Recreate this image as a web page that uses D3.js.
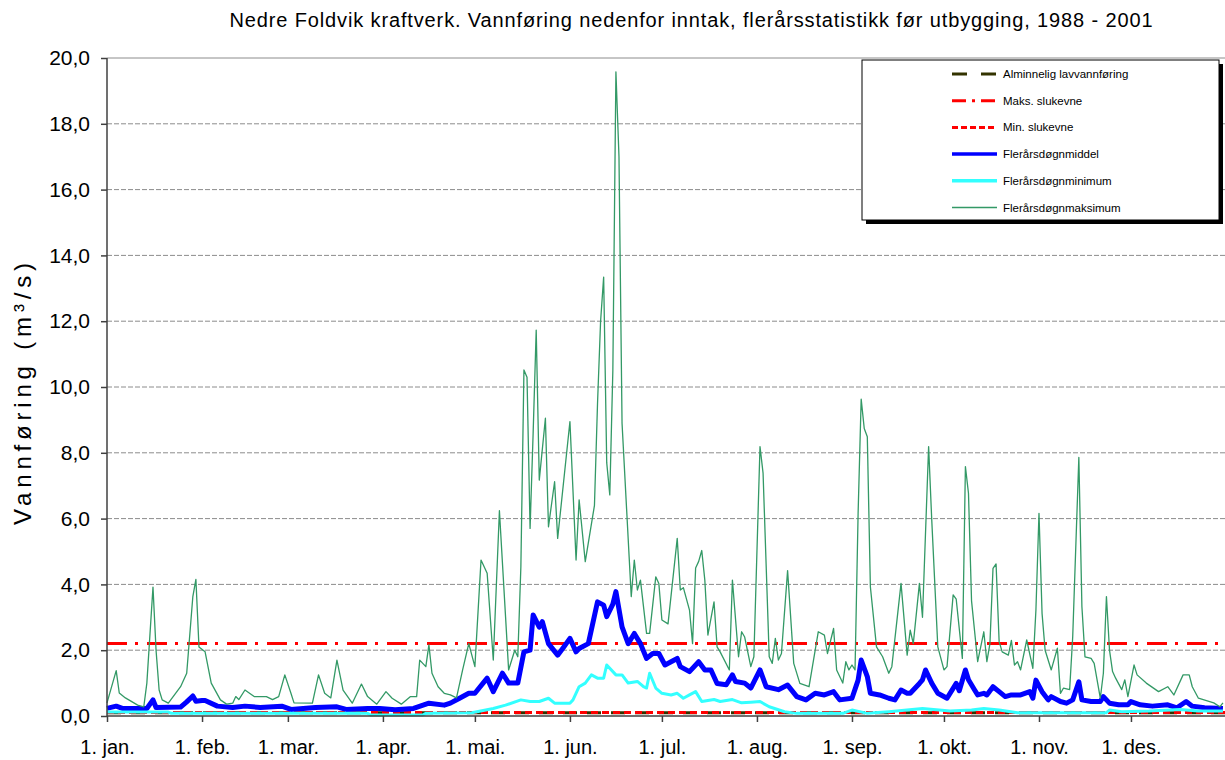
<!DOCTYPE html>
<html>
<head>
<meta charset="utf-8">
<script src="https://cdn.jsdelivr.net/npm/d3@7"></script>
<style>
  body { margin: 0; background: #fff; }
  svg { display: block; font-family: "Liberation Sans", Arial, sans-serif; }
  .axis path, .axis line { stroke: #404040; stroke-width: 1.5; }
  .axis text { font-size: 20px; fill: #000; }
  .y-axis text { font-size: 21px; }
  .grid line { stroke: #8c8c8c; stroke-width: 1; stroke-dasharray: 5,2; }
  .legend text { font-size: 11.5px; fill: #000; }
</style>
</head>
<body>
<svg id="chart" width="1225" height="760"></svg>
<script>
const title = "Nedre Foldvik kraftverk. Vannføring nedenfor inntak, flerårsstatistikk før utbygging, 1988 - 2001";
const yLabel = "Vannføring (m³/s)";

// day of year for 1st of each month, and the labels
const monthStart = [0, 31, 59, 90, 120, 151, 181, 212, 243, 273, 304, 334];
const monthLabels = ["1. jan.", "1. feb.", "1. mar.", "1. apr.", "1. mai.", "1. jun.",
  "1. jul.", "1. aug.", "1. sep.", "1. okt.", "1. nov.", "1. des."];
const yTicks = [0, 2, 4, 6, 8, 10, 12, 14, 16, 18, 20];

// constant levels (m3/s)
const lavvannforing = 0.10;
const maksSlukevne = 2.2;
const minSlukevne = 0.11;

// [day of year, m3/s]
const maxFlow = [
  [0,0.4],[3,1.38],[4,0.7],[6,0.55],[10,0.33],[12,0.28],[13,1.0],[15,3.92],[16,2.0],[17,0.79],
  [18,0.49],[20,0.39],[24,0.89],[26,1.3],[28,3.63],[29,4.15],[30,2.1],[32,1.95],[34,1.0],[37,0.49],
  [39,0.36],[41,0.39],[42,0.59],[43,0.5],[45,0.79],[48,0.59],[52,0.59],[54,0.5],[56,0.59],[58,1.25],
  [60,0.69],[61,0.4],[67,0.39],[69,1.25],[71,0.69],[73,0.55],[75,1.7],[77,0.79],[80,0.39],[83,0.97],
  [85,0.59],[88,0.36],[91,0.74],[93,0.54],[96,0.36],[99,0.59],[101,0.59],[102,1.7],[104,1.5],[105,2.16],
  [106,1.3],[108,0.89],[110,0.69],[112,0.64],[114,0.55],[116,1.4],[118,2.2],[120,1.5],[122,4.74],[124,4.34],
  [126,1.7],[128,6.24],[130,3.02],[131,1.4],[133,2.0],[134,1.8],[135,4.54],[136,10.52],[137,10.3],[138,5.7],
  [139,8.6],[140,11.73],[141,7.17],[143,9.05],[144,5.75],[146,7.12],[147,5.4],[151,8.95],[153,4.74],[154,6.57],
  [156,4.69],[159,6.4],[160,9.5],[161,12.0],[162,13.34],[163,7.7],[164,6.72],[165,10.5],[166,19.58],[167,17.0],
  [168,8.9],[171,3.63],[172,4.74],[173,3.83],[174,4.13],[176,2.51],[177,2.51],[179,4.23],[180,4.03],[181,2.92],
  [183,2.8],[186,5.4],[187,3.83],[188,3.9],[190,3.22],[191,2.2],[192,4.5],[193,4.7],[194,5.03],[195,4.13],
  [196,2.46],[198,3.47],[199,2.1],[200,1.95],[203,1.4],[204,4.13],[206,1.8],[207,2.56],[208,2.4],[210,1.5],
  [211,1.8],[213,8.19],[214,7.38],[216,1.8],[217,1.6],[218,2.36],[219,1.7],[220,1.9],[222,4.42],[224,1.6],
  [226,0.99],[229,0.89],[232,2.56],[234,2.46],[235,1.9],[237,2.66],[238,1.4],[240,1.0],[241,1.65],[242,1.4],
  [243,1.55],[244,1.4],[245,6.16],[246,9.63],[247,8.74],[248,8.49],[249,3.93],[251,2.1],[253,1.8],[255,1.3],
  [256,1.5],[259,4.03],[261,1.85],[262,2.61],[263,2.2],[265,4.03],[266,3.0],[268,8.19],[269,6.0],[271,2.1],
  [273,1.4],[274,1.5],[276,3.68],[277,3.55],[279,1.75],[280,7.58],[281,6.77],[282,3.5],[284,1.65],[286,2.56],
  [287,1.65],[288,2.2],[289,4.49],[290,4.62],[291,2.26],[292,1.95],[294,1.85],[295,2.3],[296,1.55],[297,1.65],
  [298,1.4],[300,2.31],[302,1.45],[303,3.22],[304,6.16],[305,3.12],[306,2.0],[308,1.4],[310,2.06],[311,0.69],
  [312,0.85],[314,0.8],[315,2.41],[317,7.86],[318,3.32],[319,1.8],[321,1.75],[322,1.6],[324,0.54],[325,1.3],
  [326,3.63],[327,2.0],[328,1.35],[329,1.15],[331,0.8],[332,1.1],[333,0.59],[335,1.55],[336,1.25],[339,1.0],
  [343,0.74],[346,0.89],[348,0.64],[351,1.25],[353,1.25],[354,0.89],[356,0.54],[361,0.4],[363,0.28],[364,0.4]
];

const meanFlow = [
  [0,0.23],[3,0.3],[5,0.23],[13,0.23],[15,0.49],[16,0.26],[24,0.27],[26,0.43],[28,0.61],[29,0.45],
  [31,0.47],[32,0.47],[36,0.3],[41,0.26],[45,0.3],[50,0.26],[57,0.3],[60,0.2],[68,0.26],[75,0.28],
  [78,0.2],[85,0.23],[89,0.23],[94,0.19],[100,0.23],[105,0.39],[110,0.33],[112,0.39],[115,0.54],[118,0.69],
  [120,0.69],[124,1.15],[126,0.74],[129,1.3],[131,1.0],[134,1.0],[136,1.95],[138,2.0],[139,3.07],[141,2.7],
  [142,2.87],[144,2.2],[147,1.85],[149,2.1],[151,2.36],[153,1.95],[154,2.05],[157,2.2],[160,3.47],[162,3.37],
  [163,3.02],[165,3.4],[166,3.78],[168,2.71],[170,2.2],[172,2.51],[174,2.2],[176,1.75],[178,1.9],[180,1.9],
  [182,1.55],[186,1.75],[187,1.5],[190,1.35],[193,1.65],[195,1.4],[197,1.4],[199,0.99],[202,0.95],[204,1.25],
  [205,1.05],[208,1.0],[210,0.85],[213,1.4],[215,0.89],[219,0.8],[222,0.94],[225,0.59],[228,0.49],[231,0.69],
  [234,0.64],[237,0.74],[239,0.49],[243,0.54],[245,1.09],[246,1.7],[248,1.2],[249,0.69],[252,0.64],[255,0.54],
  [257,0.49],[259,0.79],[261,0.69],[262,0.69],[265,0.99],[266,1.1],[267,1.4],[269,1.0],[271,0.69],[274,0.54],
  [277,0.99],[278,0.77],[280,1.4],[281,1.1],[283,0.79],[284,0.64],[286,0.69],[287,0.64],[289,0.89],[291,0.74],
  [293,0.59],[295,0.64],[298,0.64],[301,0.74],[302,0.54],[303,1.09],[305,0.74],[307,0.49],[308,0.59],[311,0.44],
  [313,0.39],[315,0.49],[317,1.04],[318,0.49],[321,0.44],[324,0.44],[325,0.59],[327,0.39],[330,0.34],[333,0.34],
  [334,0.44],[337,0.34],[341,0.3],[346,0.34],[349,0.25],[352,0.44],[354,0.3],[358,0.25],[364,0.23]
];

const minFlow = [
  [0,0.12],[20,0.12],[21,0.08],[85,0.08],[86,0.03],[103,0.03],[104,0.08],[119,0.1],[126,0.23],[130,0.33],
  [135,0.49],[138,0.44],[141,0.44],[144,0.54],[146,0.39],[151,0.39],[152,0.49],[154,0.89],[156,1.0],[158,1.25],
  [160,1.15],[162,1.15],[163,1.55],[166,1.25],[168,1.25],[170,1.0],[173,1.05],[175,0.89],[176,0.85],[177,1.3],
  [179,0.85],[181,0.69],[184,0.64],[186,0.69],[188,0.54],[190,0.64],[192,0.74],[194,0.44],[198,0.5],[200,0.44],
  [204,0.5],[207,0.4],[210,0.42],[213,0.44],[216,0.28],[221,0.13],[225,0.08],[240,0.08],[243,0.18],[248,0.08],
  [255,0.13],[266,0.23],[275,0.15],[282,0.18],[286,0.23],[291,0.18],[297,0.1],[326,0.1],[327,0.18],[331,0.13],
  [340,0.15],[350,0.2],[356,0.15],[364,0.15]
];

const legendItems = [
  { label: "Alminnelig lavvannføring", color: "#333300", width: 3, dash: "14,10", key: "15,14" },
  { label: "Maks. slukevne", color: "#ff0000", width: 3, dash: "20,8,3,9", key: "14,6,3,6" },
  { label: "Min. slukevne", color: "#ff0000", width: 3, dash: "7,4", key: "6,3" },
  { label: "Flerårsdøgnmiddel", color: "#0000ff", width: 3.5, dash: null, key: null },
  { label: "Flerårsdøgnminimum", color: "#33ffff", width: 3.5, dash: null, key: null },
  { label: "Flerårsdøgnmaksimum", color: "#339966", width: 1.3, dash: null, key: null }
];

const svg = d3.select("#chart");
svg.append("rect").attr("width", 1225).attr("height", 760).attr("fill", "#fff");

const plotLeft = 107, plotTop = 58, plotBottom = 716;
const x = d3.scaleLinear().domain([0, 365]).range([plotLeft, 1226]);
const y = d3.scaleLinear().domain([0, 20]).range([plotBottom, plotTop]);

// gridlines
svg.append("g")
  .attr("class", "grid")
  .selectAll("line")
  .data(yTicks.filter((d) => d > 0))
  .join("line")
  .attr("x1", plotLeft).attr("x2", 1225)
  .attr("y1", (d) => y(d)).attr("y2", (d) => y(d))
  .style("stroke-dasharray", (d) => (d === 20 ? "none" : null));

// constant level lines
const levels = [
  [lavvannforing, legendItems[0]],
  [maksSlukevne, legendItems[1]],
  [minSlukevne, legendItems[2]]
];
svg.append("g")
  .selectAll("line")
  .data(levels)
  .join("line")
  .attr("x1", x(0)).attr("x2", 1225)
  .attr("y1", (d) => y(d[0])).attr("y2", (d) => y(d[0]))
  .attr("stroke", (d) => d[1].color)
  .attr("stroke-width", (d) => d[1].width)
  .attr("stroke-dasharray", (d) => d[1].dash);

const line = d3.line().x((d) => x(d[0])).y((d) => y(d[1]));

const series = [
  [meanFlow, legendItems[3]],
  [minFlow, legendItems[4]],
  [maxFlow, legendItems[5]]
];
svg.append("g")
  .selectAll("path")
  .data(series)
  .join("path")
  .attr("d", (d) => line(d[0]))
  .attr("fill", "none")
  .attr("stroke", (d) => d[1].color)
  .attr("stroke-width", (d, i) => (i === 0 ? 5 : i === 1 ? 3 : d[1].width))
  .attr("stroke-linejoin", "round");

// axes
const yAxis = d3.axisLeft(y)
  .tickValues(yTicks)
  .tickSize(6)
  .tickPadding(11)
  .tickFormat((d) => d3.format(".1f")(d).replace(".", ","));
svg.append("g").attr("class", "axis y-axis").attr("transform", `translate(${plotLeft},0)`).call(yAxis)
  .select(".domain").attr("d", `M0,${plotTop}V${plotBottom}`);

const xAxis = d3.axisBottom(x)
  .tickValues(monthStart)
  .tickSize(6)
  .tickFormat((d, i) => monthLabels[i]);
const gx = svg.append("g").attr("class", "axis").attr("transform", `translate(0,${plotBottom})`).call(xAxis);
gx.select(".domain").attr("d", `M${plotLeft},0H1225`);
gx.selectAll(".tick text").attr("y", 24).attr("dy", "0.71em");

// titles
svg.append("text")
  .attr("x", 691).attr("y", 27)
  .attr("text-anchor", "middle")
  .attr("textLength", 923)
  .attr("lengthAdjust", "spacing")
  .style("font-size", "20px")
  .text(title);

svg.append("text")
  .attr("transform", "translate(31,394) rotate(-90)")
  .attr("text-anchor", "middle")
  .attr("textLength", 262)
  .attr("lengthAdjust", "spacing")
  .style("font-size", "24px")
  .text(yLabel);

// legend
const lg = svg.append("g").attr("class", "legend");
lg.append("rect").attr("x", 866).attr("y", 64).attr("width", 357).attr("height", 160).attr("fill", "#000");
lg.append("rect").attr("x", 862).attr("y", 60).attr("width", 357).attr("height", 160)
  .attr("fill", "#fff").attr("stroke", "#000").attr("stroke-width", 1);

const rows = lg.selectAll(".row")
  .data(legendItems)
  .join("g")
  .attr("class", "row")
  .attr("transform", (d, i) => `translate(0,${74 + i * 26.7})`);
rows.append("line")
  .attr("x1", 952).attr("x2", 997)
  .attr("stroke", (d) => d.color)
  .attr("stroke-width", (d) => d.width)
  .attr("stroke-dasharray", (d) => d.key);
rows.append("text")
  .attr("x", 1003).attr("dy", "0.35em")
  .text((d) => d.label);
</script>
</body>
</html>
